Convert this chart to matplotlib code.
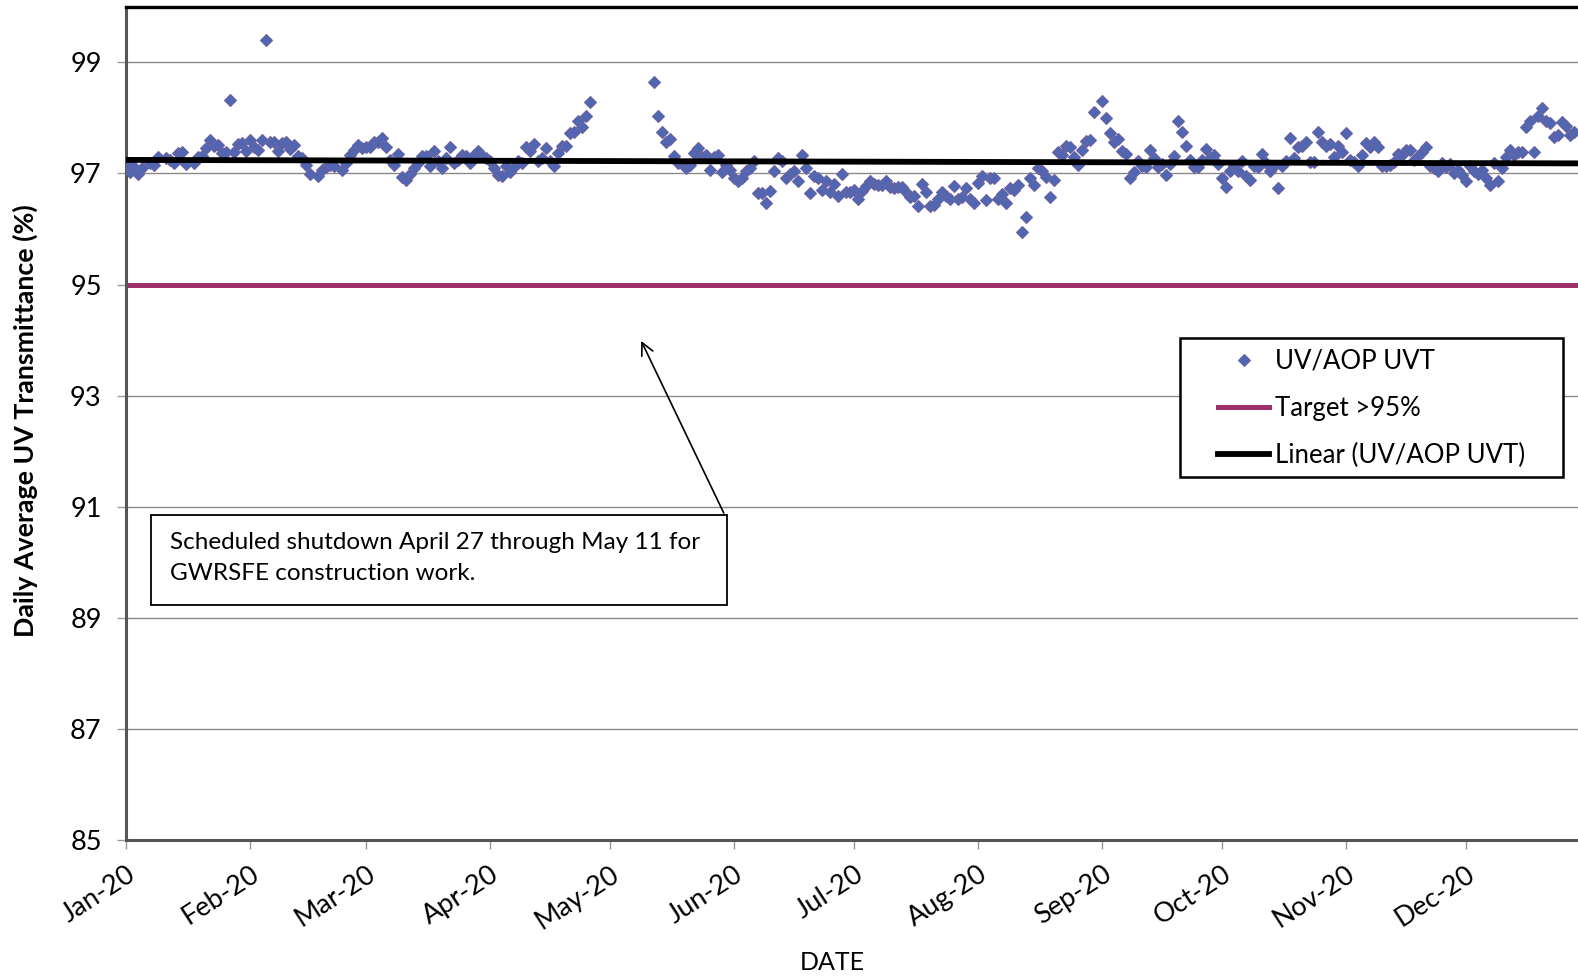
import numpy as np
import pandas as pd
import matplotlib
matplotlib.use("Agg")
import matplotlib.pyplot as plt
import matplotlib.dates as mdates
from matplotlib.lines import Line2D

plt.rcParams['font.family'] = ['Lato', 'DejaVu Sans']

nan = np.nan
# Segment 1: daily values starting 2020-01-01
seg1_start = "2020-01-01"
seg1_values = [
    97.19, 97.03, 97.11, 96.99, 97.10, nan, 97.19, 97.15, 97.30, nan,
    97.27, 97.25, 97.19, 97.36, 97.39, 97.17, nan, 97.19, 97.30, 97.31,
    97.45, 97.60, 97.49, 97.51, 97.36, 97.39, 98.32, 97.39, 97.53, 97.54,
    97.40, 97.60, 97.48, 97.42, 97.60, 99.40, 97.57, 97.57, 97.40, 97.54,
    97.57, 97.44, 97.51, 97.31, 97.28, 97.16, 96.99, nan, 96.95, 97.07,
    97.11, 97.16, 97.13, nan, 97.07, 97.19, 97.33, 97.42, 97.51, 97.45,
    97.48, 97.47, 97.57, 97.57, 97.63, 97.47, 97.25, 97.16, 97.35, 96.93,
    96.89, 96.99, 97.10, 97.19, 97.31, 97.31, 97.13, 97.40, 97.22, 97.09,
    97.27, 97.47, 97.19, 97.25, 97.33, 97.31, 97.19, 97.33, 97.40, 97.31,
    97.27, 97.22, 97.10, 96.97, 96.95, 97.13, 97.03, 97.11, 97.23, 97.19,
    97.47, 97.40, 97.53, 97.22, 97.28, 97.46, 97.23, 97.13, 97.37, 97.49,
    97.49, 97.73, 97.75, 97.94, 97.83, 98.04, 98.28,
]
# Segment 2: daily values starting 2020-05-12 (after scheduled shutdown)
seg2_start = "2020-05-12"
seg2_values = [
    98.64, 98.03, 97.75, 97.57, 97.62, 97.31, 97.19, nan, 97.09, 97.16,
    97.36, 97.45, 97.30, 97.33, 97.07, 97.30, 97.34, 97.03, 97.15, 97.07,
    96.91, 96.86, 96.92, 97.05, 97.09, 97.22, 96.65, 96.65, 96.47, 96.69,
    97.05, 97.28, 97.22, 96.92, 96.99, 97.04, 96.87, 97.33, 97.10, 96.65,
    96.95, 96.92, 96.71, 96.86, 96.67, 96.81, 96.59, 96.99, 96.67,
    96.66, 96.70, 96.54, 96.68, 96.77, 96.87, 96.81, 96.79, 96.79, 96.87,
    96.75, 96.73, 96.75, 96.75, 96.66, 96.58, 96.59, 96.41, 96.81, 96.66,
    96.41, 96.44, 96.54, 96.67, 96.59, 96.54, 96.77, 96.54, 96.58, 96.74,
    96.54, 96.47, 96.83, 96.95, 96.52, 96.91, 96.91, 96.54, 96.63, 96.47,
    96.74, 96.70, 96.79, 95.94, 96.21, 96.91, 96.79, 97.09, 97.04, 96.93,
    96.58, 96.89, 97.39, 97.33, 97.49, 97.48, 97.29, 97.15, 97.42, 97.59,
    97.60, 98.10, nan, 98.30, 98.00, 97.72, 97.56, 97.62, 97.41, 97.35,
    96.91, 97.03, 97.23, 97.13, 97.11, 97.42, 97.27, 97.11, 97.17, 96.98,
    97.17, 97.31, 97.94, 97.75, 97.49, 97.25, 97.11, 97.11, 97.25, 97.44,
    97.27, 97.33, 97.17, 96.92, 96.75, 97.05, 97.13, 97.05, 97.23, 96.95,
    96.89, 97.13, 97.11, 97.35, 97.19, 97.04, 97.13, 96.74, 97.13, 97.22,
    97.63, 97.27, 97.48, 97.49, 97.57, 97.21, 97.21, 97.75, 97.56, 97.49,
    97.53, 97.30, 97.49, 97.39, 97.72, 97.25, 97.21, 97.13, 97.33, 97.54,
    97.48, 97.57, 97.48, 97.13, 97.13, 97.16, 97.21, 97.35, 97.33, 97.42,
    97.42, 97.25, 97.31, 97.39, 97.48, 97.13, 97.09, 97.04, 97.19, 97.11,
    97.17, 97.01, 97.07, 96.97, 96.87, 97.13, 97.05, 96.99, 97.07, 96.91,
    96.79, 97.19, 96.86, 97.09, 97.30, 97.42, 97.33, 97.39, 97.39, 97.83,
    97.94, 97.39, 98.04, 98.18, 97.95, 97.90, 97.66, 97.70, 97.92, 97.86,
    97.69, 97.75,
]
target_value = 95.0
y_ticks = [85, 87, 89, 91, 93, 95, 97, 99]
annotation_text = "Scheduled shutdown April 27 through May 11 for\nGWRSFE construction work."
legend_labels = ["UV/AOP UVT", "Target >95%", "Linear (UV/AOP UVT)"]
x_start, x_end = "2020-01-01", "2020-12-31"

d1 = pd.date_range(seg1_start, periods=len(seg1_values), freq="D")
d2 = pd.date_range(seg2_start, periods=len(seg2_values), freq="D")
dates = d1.append(d2)
vals = np.array(seg1_values + seg2_values, dtype=float)

xnum = mdates.date2num(dates.to_pydatetime())
mask = ~np.isnan(vals)
coef = np.polyfit(xnum[mask], vals[mask], 1)
xs = np.array([mdates.date2num(pd.Timestamp(x_start)), mdates.date2num(pd.Timestamp(x_end))])
trend = np.polyval(coef, xs)

W, H = 1578, 977
fig = plt.figure(figsize=(W / 100, H / 100), dpi=100)
left_px, right_px, top_px, bottom_px = 126, 1586, 6.8, 840
ax = fig.add_axes([left_px / W, 1 - bottom_px / H, (right_px - left_px) / W, (bottom_px - top_px) / H])

marker_face = "#4F67B2"
marker_edge = "#6A62A2"
target_color = "#A0306A"
ms = 5.8

ax.set_xlim(xs[0], xs[1])
ax.set_ylim(85, 100)
ax.set_yticks(y_ticks)
ax.yaxis.grid(True, color="#8a8a8a", linewidth=1.0, zorder=0)
ax.set_axisbelow(True)

ax.axhline(target_value, color=target_color, linewidth=3.6, zorder=2)
ax.plot(xs, trend, color="black", linewidth=4.2, zorder=4)
ax.plot(dates, vals, linestyle="none", marker="D", markersize=ms,
        markerfacecolor=marker_face, markeredgecolor=marker_edge, markeredgewidth=0.8, zorder=3)

ax.xaxis.set_major_locator(mdates.MonthLocator())
ax.xaxis.set_major_formatter(mdates.DateFormatter("%b-%y"))
for lab in ax.get_xticklabels():
    lab.set_rotation(33)
    lab.set_ha("right")
    lab.set_rotation_mode("anchor")
ax.tick_params(axis="x", direction="out", length=6.5, width=1, color="#999999", labelsize=19.5, pad=9)
ax.tick_params(axis="y", direction="out", length=6.5, width=1, color="#999999", labelsize=19.5, pad=11)

for s in ["left", "bottom"]:
    ax.spines[s].set_color("#555555")
    ax.spines[s].set_linewidth(2.2)
ax.spines["top"].set_color("black")
ax.spines["top"].set_linewidth(2.4)
ax.spines["right"].set_visible(False)

fig.text(25 / W, 1 - 421 / H, "Daily Average UV Transmittance (%)", rotation=90,
         ha="center", va="center", fontsize=19.3, fontweight="bold")
fig.text(832 / W, 1 - 963 / H, "DATE", ha="center", va="center", fontsize=18)

# annotation arrow (from box to the gap in the data)
tip = (mdates.date2num(pd.Timestamp("2020-05-08")) + 0.5, 94.03)
tail = (mdates.date2num(pd.Timestamp("2020-05-29")) + 0.75, 90.84)
ax.annotate("", xy=tip, xytext=tail,
            arrowprops=dict(arrowstyle="->", color="black", lw=1.2, mutation_scale=22), zorder=6)
box = plt.Rectangle((151 / W, 1 - 605 / H), (727 - 151) / W, (605 - 515) / H,
                    transform=fig.transFigure, facecolor="white", edgecolor="black", linewidth=1.3, zorder=7)
fig.add_artist(box)
fig.text(170 / W, 1 - 558 / H, annotation_text, ha="left", va="center", fontsize=17.5,
         linespacing=1.55, zorder=8)

# legend: fixed frame + entries
lbox = plt.Rectangle((1180 / W, 1 - 477 / H), (1563 - 1180) / W, (477 - 338) / H,
                     transform=fig.transFigure, facecolor="white", edgecolor="black", linewidth=1.8, zorder=9)
fig.add_artist(lbox)
handles = [
    Line2D([], [], linestyle="none", marker="D", markersize=ms, markerfacecolor=marker_face,
           markeredgecolor=marker_edge, markeredgewidth=0.8),
    Line2D([], [], color=target_color, linewidth=3.6),
    Line2D([], [], color="black", linewidth=4.2),
]
leg = fig.legend(handles, legend_labels, loc="upper left",
                 bbox_to_anchor=(1218 / W, 1 - 349 / H), fontsize=18.5, frameon=False,
                 handlelength=2.0, handletextpad=0.2,
                 labelspacing=0.85, borderpad=0, borderaxespad=0)
leg.set_zorder(10)

fig.savefig("out.png", dpi=100)
